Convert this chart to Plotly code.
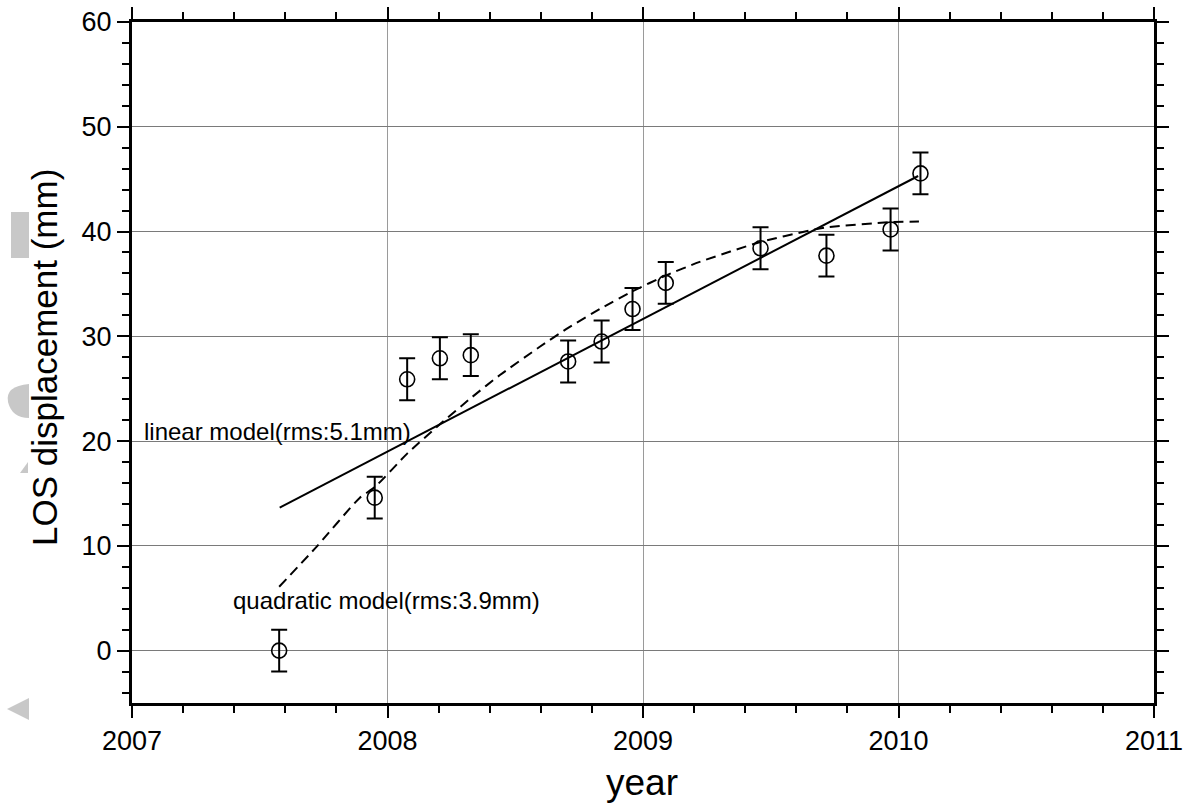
import plotly.graph_objects as go

# ---- data ----
years = [2007.576, 2007.950, 2008.077, 2008.205, 2008.326, 2008.707, 2008.838,
         2008.959, 2009.089, 2009.460, 2009.718, 2009.969, 2010.086]
los_mm = [0.0, 14.6, 25.9, 27.9, 28.2, 27.6, 29.5, 32.6, 35.1, 38.4, 37.7, 40.2, 45.55]
los_err = [2.0] * 13

linear_years = [2007.578, 2010.077]
linear_vals = [13.65, 45.3]

quad_years = [2007.576, 2007.722, 2007.892, 2007.950, 2008.077, 2008.205, 2008.326,
              2008.440, 2008.596, 2008.707, 2008.838, 2008.959, 2009.089, 2009.222,
              2009.460, 2009.653, 2009.718, 2009.969, 2010.080]
quad_vals = [6.1, 9.9, 14.6, 15.6, 18.8, 21.6, 24.1, 26.3, 29.0, 30.8, 32.7, 34.3,
             35.8, 37.1, 39.0, 40.1, 40.4, 40.9, 40.95]

x_ticks = [2007, 2008, 2009, 2010, 2011]
y_ticks = [0, 10, 20, 30, 40, 50, 60]

FONT = "Liberation Sans, Arial, Helvetica, sans-serif"

# plot area in pixels (for decoration placement)
L, R, T, B = 132, 36, 22, 100
W, H = 1190, 803
PW, PH = W - L - R, H - T - B


def px(xp):
    return (xp - L) / PW


def py(yp):
    return (H - B - yp) / PH


fig = go.Figure()

fig.add_trace(go.Scatter(
    x=quad_years, y=quad_vals, mode="lines",
    line=dict(color="black", width=2, dash="10px,6px", shape="spline", smoothing=0.6),
    showlegend=False, hoverinfo="skip"))

fig.add_trace(go.Scatter(
    x=linear_years, y=linear_vals, mode="lines",
    line=dict(color="black", width=2),
    showlegend=False, hoverinfo="skip"))

fig.add_trace(go.Scatter(
    x=years, y=los_mm, mode="markers",
    marker=dict(symbol="circle-open", size=15, color="black", line=dict(width=1.6, color="black")),
    error_y=dict(type="data", array=los_err, visible=True, color="black", thickness=2, width=8),
    showlegend=False))

axis_common = dict(
    showline=True, linewidth=3, linecolor="black", mirror="allticks",
    ticks="outside", ticklen=12, tickwidth=2, tickcolor="black",
    showgrid=True, gridwidth=1, zeroline=False, automargin=False,
    tickfont=dict(family=FONT, size=27, color="black"),
)

fig.update_xaxes(
    range=[2007, 2011], tickmode="array", tickvals=x_ticks,
    ticktext=[str(v) for v in x_ticks], gridcolor="#9a9a9a",
    minor=dict(dtick=0.2, tick0=2007, ticks="outside", ticklen=7, tickwidth=2,
               tickcolor="black", showgrid=False),
    **axis_common)
fig.update_yaxes(
    range=[-5, 60], tickmode="array", tickvals=y_ticks,
    ticktext=[str(v) for v in y_ticks], gridcolor="#7a7a7a",
    minor=dict(dtick=2, tick0=0, ticks="outside", ticklen=7, tickwidth=2,
               tickcolor="black", showgrid=False),
    **axis_common)

annotations = [
    dict(x=2007.038, y=20.95, xref="x", yref="y", text="linear model(rms:5.1mm)",
         showarrow=False, xanchor="left", yanchor="middle",
         font=dict(family=FONT, size=24, color="black")),
    dict(x=2007.386, y=4.75, xref="x", yref="y", text="quadratic model(rms:3.9mm)",
         showarrow=False, xanchor="left", yanchor="middle",
         font=dict(family=FONT, size=24, color="black")),
    dict(x=px(642), y=py(782), xref="paper", yref="paper", text="year",
         showarrow=False, xanchor="center", yanchor="middle",
         font=dict(family=FONT, size=37, color="black")),
    dict(x=px(45), y=py(358), xref="paper", yref="paper", text="LOS displacement (mm)",
         showarrow=False, xanchor="center", yanchor="middle", textangle=-90,
         font=dict(family=FONT, size=35, color="black")),
]

# faint grey page remnants at the left edge
grey = "#c8c8c8"
shapes = [
    dict(type="rect", xref="paper", yref="paper", x0=px(11), x1=px(29), y0=py(258), y1=py(212),
         fillcolor=grey, line=dict(width=0), layer="below"),
    dict(type="path", xref="paper", yref="paper",
         path=f"M {px(29)},{py(384)} Q {px(5)},{py(386)} {px(8)},{py(402)} Q {px(12)},{py(418)} {px(29)},{py(418)} Z",
         fillcolor=grey, line=dict(width=0), layer="below"),
    dict(type="path", xref="paper", yref="paper",
         path=f"M {px(28)},{py(462)} L {px(20)},{py(473)} L {px(28)},{py(473)} Z",
         fillcolor=grey, line=dict(width=0), layer="below"),
    dict(type="path", xref="paper", yref="paper",
         path=f"M {px(29)},{py(698)} L {px(7)},{py(709)} L {px(29)},{py(720)} Z",
         fillcolor=grey, line=dict(width=0), layer="below"),
]

fig.update_layout(
    width=W, height=H,
    margin=dict(l=L, r=R, t=T, b=B),
    paper_bgcolor="white", plot_bgcolor="white",
    font=dict(family=FONT, color="black"),
    annotations=annotations, shapes=shapes,
    showlegend=False,
)

fig.write_html("out.html")
